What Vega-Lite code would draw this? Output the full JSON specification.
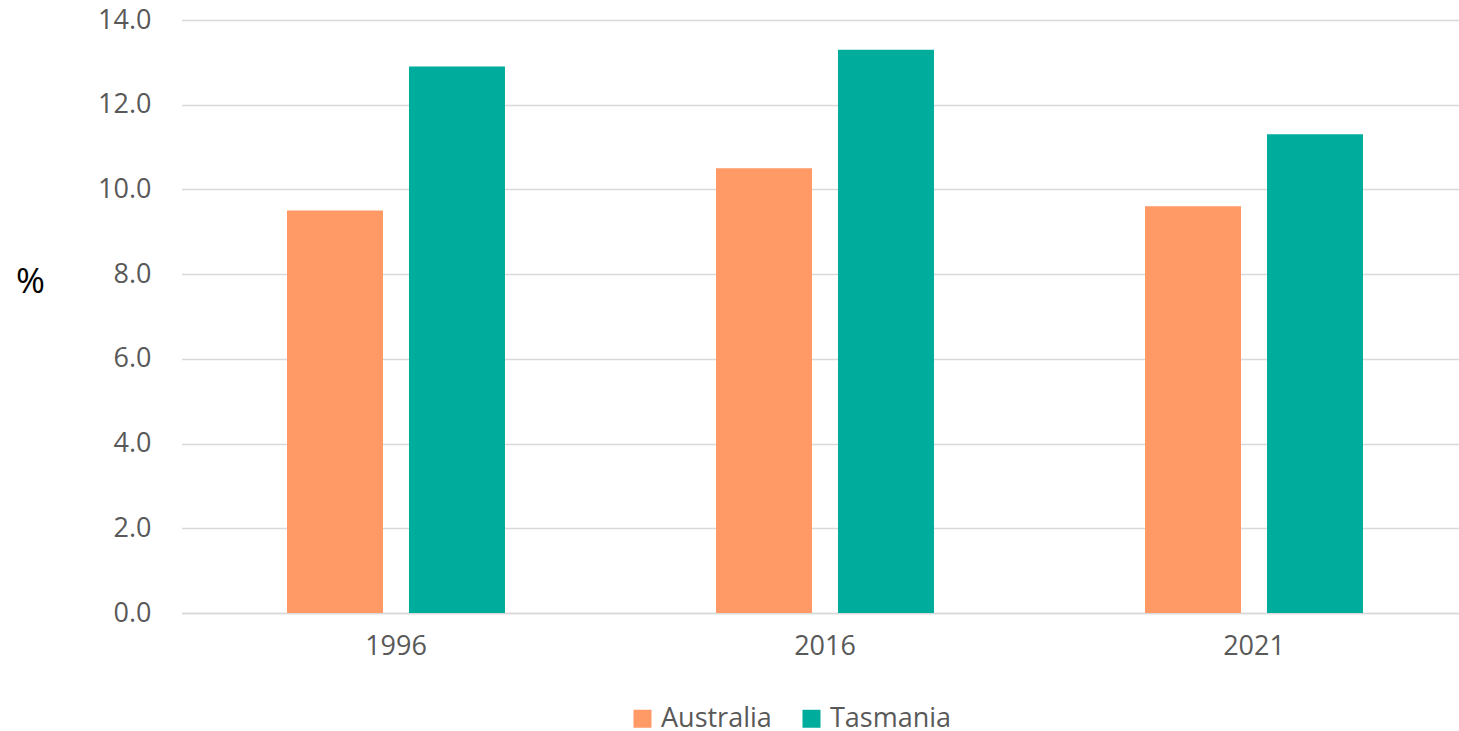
{
  "$schema": "https://vega.github.io/schema/vega-lite/v6.json",
  "width": 1278,
  "height": 593,
  "autosize": {"type": "none"},
  "padding": {"left": 181, "top": 20, "right": 0, "bottom": 118},
  "background": "white",
  "data": {
    "values": [
      {"year": "1996", "region": "Australia", "pct": 9.5},
      {"year": "1996", "region": "Tasmania", "pct": 12.9},
      {"year": "2016", "region": "Australia", "pct": 10.5},
      {"year": "2016", "region": "Tasmania", "pct": 13.3},
      {"year": "2021", "region": "Australia", "pct": 9.6},
      {"year": "2021", "region": "Tasmania", "pct": 11.3}
    ]
  },
  "config": {
    "font": "Open Sans",
    "view": {"stroke": null}
  },
  "mark": {"type": "bar"},
  "encoding": {
    "x": {
      "field": "year",
      "type": "nominal",
      "scale": {"paddingInner": 0, "paddingOuter": 0, "range": [0.5, 1287.5]},
      "axis": {
        "title": null,
        "labelAngle": 0,
        "labelFontSize": 27,
        "labelColor": "#595959",
        "labelPadding": 20,
        "ticks": false,
        "domainColor": "#d9d9d9",
        "domainWidth": 1.5
      }
    },
    "xOffset": {
      "field": "region",
      "type": "nominal",
      "scale": {"paddingInner": 0.213, "paddingOuter": 0.865}
    },
    "y": {
      "field": "pct",
      "type": "quantitative",
      "scale": {"domain": [0, 14]},
      "axis": {
        "values": [0, 2, 4, 6, 8, 10, 12, 14],
        "format": ".1f",
        "labelFontSize": 27,
        "labelColor": "#595959",
        "labelPadding": 30,
        "ticks": false,
        "domain": false,
        "gridColor": "#d9d9d9",
        "gridWidth": 1.5,
        "title": "%",
        "titleAngle": 0,
        "titleFontSize": 35,
        "titleFontWeight": "normal",
        "titleColor": "#000000",
        "titleX": -151,
        "titleY": 261,
        "titleAlign": "center",
        "titleBaseline": "middle"
      }
    },
    "color": {
      "field": "region",
      "type": "nominal",
      "scale": {"domain": ["Australia", "Tasmania"], "range": ["#FF9966", "#00AC9B"]},
      "legend": {
        "title": null,
        "orient": "none",
        "direction": "horizontal",
        "legendX": 448,
        "legendY": 685,
        "symbolType": "square",
        "symbolSize": 324,
        "symbolStrokeWidth": 0,
        "labelFontSize": 27,
        "labelColor": "#595959",
        "labelOffset": 5,
        "columnPadding": 26
      }
    }
  }
}
